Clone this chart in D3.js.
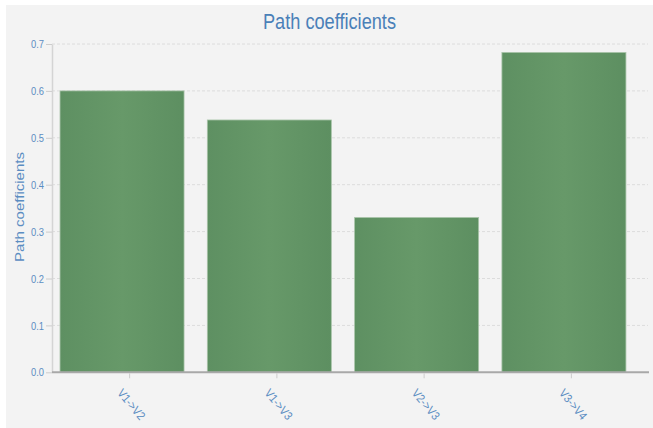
<!DOCTYPE html>
<html>
<head>
<meta charset="utf-8">
<script src="https://cdn.jsdelivr.net/npm/d3@7"></script>
<style>
  html, body { margin: 0; padding: 0; background: #ffffff; }
  svg { display: block; }
  text { font-family: "Liberation Sans", Arial, sans-serif; }
</style>
</head>
<body>
<svg id="chart" width="653" height="428"></svg>
<script>
const categories = ["V1->V2", "V1->V3", "V2->V3", "V3->V4"];
const values = [0.600, 0.538, 0.330, 0.682];
const yTicks = [0.0, 0.1, 0.2, 0.3, 0.4, 0.5, 0.6, 0.7];
const titleText = "Path coefficients";
const yTitleText = "Path coefficients";

(function () {
const svg = d3.select("#chart");
const W = 653, H = 428;

// panel background
svg.append("rect").attr("x", 6).attr("y", 5).attr("width", W - 6).attr("height", H - 5)
  .attr("fill", "#f3f3f3");

const defs = svg.append("defs");
const grad = defs.append("linearGradient").attr("id", "barGrad")
  .attr("x1", "0%").attr("x2", "100%").attr("y1", "0%").attr("y2", "0%");
grad.append("stop").attr("offset", "0%").attr("stop-color", "#5e9062");
grad.append("stop").attr("offset", "50%").attr("stop-color", "#679969");
grad.append("stop").attr("offset", "100%").attr("stop-color", "#5d8f61");

const mLeft = 52, mRight = 649, mTop = 44, mBottom = 372.3;

const y = d3.scaleLinear().domain([0, 0.7]).range([mBottom, mTop]);
const x = d3.scaleBand().domain(categories).range([mLeft, mRight])
  .paddingInner(0.158).paddingOuter(0.1055).align(0.258);
const xTick = d3.scaleBand().domain(categories).range([56, 645]);

// grid lines
svg.append("g").selectAll("line").data(yTicks.filter(d => d > 0)).join("line")
  .attr("x1", mLeft).attr("x2", 648)
  .attr("y1", d => y(d)).attr("y2", d => y(d))
  .attr("stroke", "#dcdcdc").attr("stroke-width", 1)
  .attr("stroke-dasharray", "3,2");

// y axis
const yAxis = svg.append("g").attr("transform", `translate(${mLeft},0)`)
  .call(d3.axisLeft(y).tickValues(yTicks).tickFormat(d3.format(".1f")).tickSize(6).tickSizeOuter(0));
yAxis.select(".domain").attr("stroke", "#d4d4d4").attr("stroke-width", 1.5);
yAxis.selectAll(".tick line").attr("stroke", "#cccccc");
yAxis.selectAll(".tick text").attr("fill", "#5b8dc2").attr("font-size", 11.5).attr("x", -8)
  .attr("textLength", 13).attr("lengthAdjust", "spacingAndGlyphs");

// bars
svg.append("g").selectAll("rect").data(values).join("rect")
  .attr("x", (d, i) => x(categories[i]))
  .attr("y", d => y(d))
  .attr("width", x.bandwidth())
  .attr("height", d => mBottom - y(d))
  .attr("fill", "url(#barGrad)")
  .attr("stroke", "#a9c4a9").attr("stroke-width", 0.8);

// x axis
const xAxis = svg.append("g").attr("transform", `translate(0,${mBottom})`)
  .call(d3.axisBottom(xTick).tickSize(6).tickSizeOuter(0));
xAxis.select(".domain").attr("stroke", "#a8a8a8").attr("stroke-width", 2)
  .attr("d", `M${mLeft},0H${mRight}`);
xAxis.selectAll(".tick line").attr("stroke", "#cccccc").attr("y1", 1);
xAxis.selectAll(".tick text")
  .attr("fill", "#5b8dc2").attr("font-size", 12)
  .attr("text-anchor", "start")
  .attr("dy", null)
  .attr("x", 0).attr("y", 0)
  .attr("textLength", 36).attr("lengthAdjust", "spacingAndGlyphs")
  .attr("transform", "translate(-13,21) rotate(50)");

// title
svg.append("text").attr("x", 329.5).attr("y", 29).attr("text-anchor", "middle")
  .attr("fill", "#4a80b8").attr("font-size", 22)
  .attr("textLength", 133).attr("lengthAdjust", "spacingAndGlyphs")
  .text(titleText);

// y title
svg.append("text").attr("transform", `translate(23.5,207) rotate(-90)`)
  .attr("text-anchor", "middle").attr("fill", "#5b8dc2").attr("font-size", 13)
  .attr("textLength", 110).attr("lengthAdjust", "spacingAndGlyphs")
  .text(yTitleText);
})();
</script>
</body>
</html>
